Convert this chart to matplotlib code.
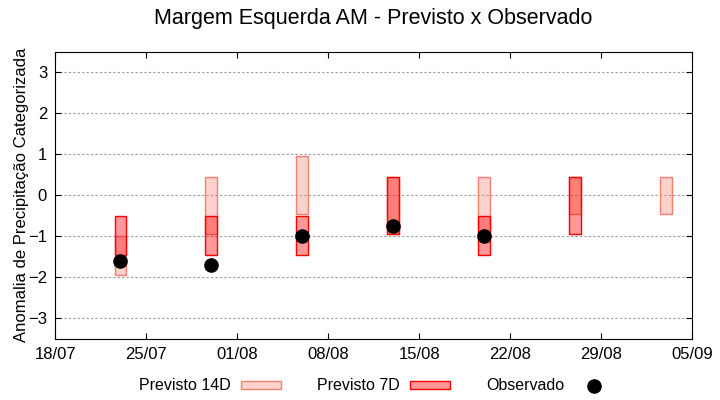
from datetime import datetime
import matplotlib
matplotlib.use('Agg')
import matplotlib.pyplot as plt
from matplotlib.lines import Line2D
from matplotlib.patches import Patch

plt.rcParams['font.family'] = ['Liberation Sans', 'DejaVu Sans']

# datas das previsoes (dd/mm)
datas = ['23/07', '30/07', '06/08', '13/08', '20/08', '27/08', '03/09']

# previsao 14 dias: limite inferior / superior
p14_inf = [-1.95, -0.95, -0.45, -0.95, -0.95, -0.45, -0.45]
p14_sup = [-1.0, 0.45, 0.95, 0.45, 0.45, 0.45, 0.45]

# previsao 7 dias (ultima data sem previsao)
p7_datas = ['23/07', '30/07', '06/08', '13/08', '20/08', '27/08']
p7_inf = [-1.45, -1.45, -1.45, -0.95, -1.45, -0.95]
p7_sup = [-0.5, -0.5, -0.5, 0.45, -0.5, 0.45]

# observado
obs_datas = ['23/07', '30/07', '06/08', '13/08', '20/08']
obs = [-1.6, -1.7, -1.0, -0.75, -1.0]

ticks = ['18/07', '25/07', '01/08', '08/08', '15/08', '22/08', '29/08', '05/09']


def conv(lst):
    return [datetime.strptime(d + '/2023', '%d/%m/%Y') for d in lst]


cor14 = (250/255, 128/255, 114/255, 0.35)
cor7 = (1, 0, 0, 0.4)

fig = plt.figure(figsize=(7.2, 4), dpi=100)
ax = fig.add_axes([0.077, 0.1525, 0.884, 0.7185])

larg = 0.9
ax.bar(conv(datas), [s - i for s, i in zip(p14_sup, p14_inf)], bottom=p14_inf, width=larg,
       facecolor=cor14, edgecolor='#f08070', linewidth=1, zorder=3)
ax.bar(conv(p7_datas), [s - i for s, i in zip(p7_sup, p7_inf)], bottom=p7_inf, width=larg,
       facecolor=cor7, edgecolor='red', linewidth=1, zorder=4)
ax.plot(conv(obs_datas), obs, 'o', color='black', markersize=9.5, zorder=5)

xt = conv(ticks)
ax.set_xlim(xt[0], xt[-1])
ax.set_xticks(xt)
ax.set_xticklabels(ticks)
ax.set_ylim(-3.5, 3.5)
ax.set_yticks(range(-3, 4))
ax.tick_params(direction='in', top=True, right=True, labelsize=12, length=4, pad=6)
ax.grid(axis='y', color='#999999', linestyle=(0, (2, 2)), linewidth=0.8)
ax.set_axisbelow(True)

ax.set_ylabel('Anomalia de Precipitação Categorizada', fontsize=12, labelpad=-1)
ax.set_title('Margem Esquerda AM - Previsto x Observado', fontsize=15.5, pad=20)

handles = [
    Patch(facecolor=cor14, edgecolor='#f08070'),
    Patch(facecolor=cor7, edgecolor='red'),
    Line2D([], [], marker='o', color='black', linestyle='none', markersize=9.5),
]
fig.legend(handles, ['Previsto 14D', 'Previsto 7D', 'Observado'], loc='center',
           bbox_to_anchor=(0.523, 1 - 386 / 400), ncol=3, frameon=False, markerfirst=False,
           fontsize=11.5, handlelength=2.5, handleheight=0.45, handletextpad=0.6, columnspacing=2.3)

fig.savefig('out.png', dpi=100)
